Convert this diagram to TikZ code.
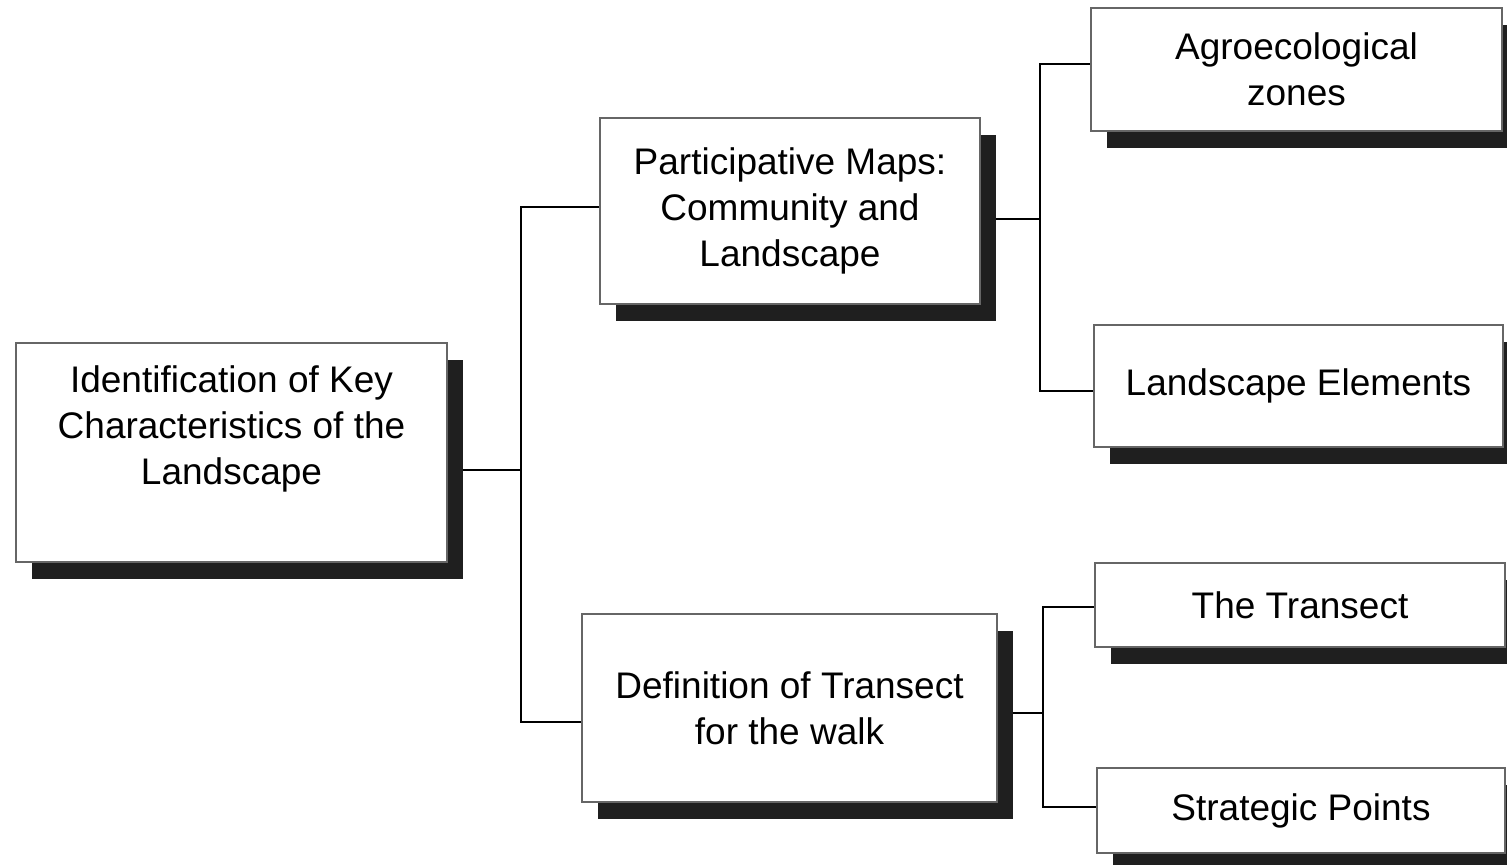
\documentclass[tikz,border=0pt]{standalone}
\usepackage{fontspec}
\setmainfont{Liberation Sans}
\usetikzlibrary{shadows,backgrounds}

\begin{document}
\begin{tikzpicture}[
  x=0.5pt, y=-0.5pt,
  txt/.style={font=\fontsize{18.5}{23}\selectfont, align=center},
  box/.style={txt, rectangle, draw=black!60, line width=0.8pt, fill=white,
    inner sep=0pt,
    drop shadow={shadow xshift=8pt, shadow yshift=-8.5pt, fill=black!88, opacity=1}},
  conn/.style={draw=black, line width=1.3pt, line join=miter}
]
\useasboundingbox (0,0) rectangle (1507,865);

% root
\node[box, minimum width=215.5pt, minimum height=109.5pt,
      label={[name=idtext, txt, yshift=12pt]center:Identification of Key\\Characteristics of the\\Landscape}]
      (id) at (231.5,452.5) {};

% second level
\node[box, minimum width=190pt, minimum height=93pt] (pm) at (790,211)
      {Participative Maps:\\Community and\\Landscape};
\node[box, minimum width=207.5pt, minimum height=94pt] (def) at (789.5,708)
      {Definition of Transect\\for the walk};

% third level
\node[box, minimum width=205.5pt, minimum height=61.5pt] (agro) at (1296.5,69.5)
      {Agroecological\\zones};
\node[box, minimum width=204.5pt, minimum height=61pt] (land) at (1298.5,386)
      {Landscape Elements};
\node[box, minimum width=205pt, minimum height=42pt] (tran) at (1300,605)
      {The Transect};
\node[box, minimum width=204pt, minimum height=42.5pt] (strat) at (1301,810.5)
      {Strategic Points};

% tree connectors, kept behind boxes and shadows
\begin{scope}[on background layer]
  \coordinate (j1) at (521,470);
  \coordinate (j2) at (1040,219);
  \coordinate (j3) at (1043,713);

  \draw[conn] (id.east |- j1) -- (j1);
  \draw[conn] (pm.west |- 0,207) -| (521,722) -- (def.west |- 0,722);

  \draw[conn] (pm.east |- j2) -- (j2);
  \draw[conn] (agro.west |- 0,64) -| (1040,391) -- (land.west |- 0,391);

  \draw[conn] (def.east |- j3) -- (j3);
  \draw[conn] (tran.west |- 0,607) -| (1043,807) -- (strat.west |- 0,807);
\end{scope}
\end{tikzpicture}
\end{document}
